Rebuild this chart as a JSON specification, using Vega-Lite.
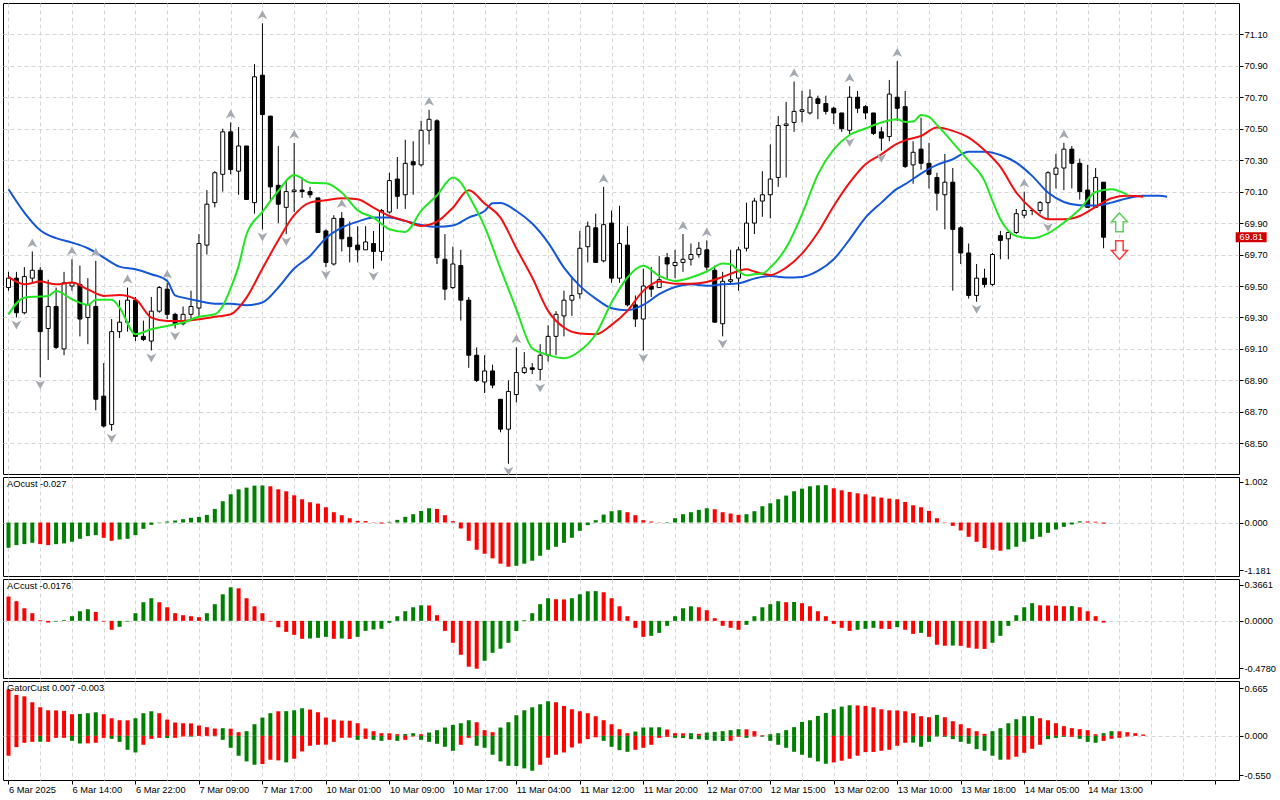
{
  "$schema": "https://vega.github.io/schema/vega-lite/v6.json",
  "background": "white",
  "padding": {"left": 2, "top": 2, "right": 0, "bottom": 0},
  "bounds": "flush",
  "spacing": 3,
  "resolve": {"scale": {"color": "independent", "shape": "independent", "stroke": "independent"}},
  "config": {
    "view": {"stroke": "black", "strokeWidth": 1},
    "font": "Liberation Sans",
    "axis": {
      "labelFont": "Liberation Sans",
      "labelFontSize": 9.3,
      "labelColor": "black",
      "labelOverlap": false,
      "domain": false,
      "gridColor": "#d6d6d6",
      "gridDash": [4, 3],
      "gridWidth": 1,
      "tickColor": "black",
      "tickSize": 4,
      "tickCount": 60,
      "labelPadding": 1
    },
    "title": {
      "font": "Liberation Sans",
      "fontSize": 9.3,
      "fontWeight": "normal",
      "color": "black",
      "anchor": "start",
      "frame": "group",
      "offset": -12,
      "dx": 4
    }
  },
  "datasets": {
    "candles": [
      {"i":1,"o":69.49,"h":69.59,"l":69.47,"c":69.55},
      {"i":2,"o":69.55,"h":69.59,"l":69.30,"c":69.33},
      {"i":3,"o":69.33,"h":69.62,"l":69.32,"c":69.56},
      {"i":4,"o":69.55,"h":69.72,"l":69.52,"c":69.60},
      {"i":5,"o":69.60,"h":69.62,"l":68.92,"c":69.21},
      {"i":6,"o":69.23,"h":69.54,"l":69.03,"c":69.37},
      {"i":7,"o":69.37,"h":69.49,"l":69.10,"c":69.11},
      {"i":8,"o":69.10,"h":69.59,"l":69.06,"c":69.52},
      {"i":9,"o":69.50,"h":69.67,"l":69.47,"c":69.52},
      {"i":10,"o":69.51,"h":69.63,"l":69.18,"c":69.29},
      {"i":11,"o":69.30,"h":69.55,"l":69.13,"c":69.38},
      {"i":12,"o":69.37,"h":69.66,"l":68.71,"c":68.78},
      {"i":13,"o":68.80,"h":69.01,"l":68.60,"c":68.61},
      {"i":14,"o":68.62,"h":69.29,"l":68.58,"c":69.21},
      {"i":15,"o":69.21,"h":69.41,"l":69.17,"c":69.27},
      {"i":16,"o":69.27,"h":69.49,"l":69.21,"c":69.41},
      {"i":17,"o":69.41,"h":69.43,"l":69.15,"c":69.18},
      {"i":18,"o":69.18,"h":69.28,"l":69.15,"c":69.16},
      {"i":19,"o":69.15,"h":69.43,"l":69.09,"c":69.34},
      {"i":20,"o":69.34,"h":69.50,"l":69.33,"c":69.49},
      {"i":21,"o":69.48,"h":69.52,"l":69.29,"c":69.32},
      {"i":22,"o":69.32,"h":69.33,"l":69.23,"c":69.26},
      {"i":23,"o":69.26,"h":69.37,"l":69.25,"c":69.32},
      {"i":24,"o":69.32,"h":69.47,"l":69.29,"c":69.37},
      {"i":25,"o":69.36,"h":69.83,"l":69.31,"c":69.77},
      {"i":26,"o":69.76,"h":70.11,"l":69.70,"c":70.02},
      {"i":27,"o":70.03,"h":70.23,"l":70.00,"c":70.22},
      {"i":28,"o":70.21,"h":70.50,"l":70.10,"c":70.48},
      {"i":29,"o":70.48,"h":70.54,"l":70.21,"c":70.24},
      {"i":30,"o":70.23,"h":70.51,"l":70.08,"c":70.39},
      {"i":31,"o":70.39,"h":70.39,"l":70.05,"c":70.05},
      {"i":32,"o":70.03,"h":70.91,"l":69.96,"c":70.83},
      {"i":33,"o":70.84,"h":71.17,"l":69.86,"c":70.59},
      {"i":34,"o":70.58,"h":70.58,"l":70.04,"c":70.13},
      {"i":35,"o":70.14,"h":70.39,"l":69.90,"c":70.02},
      {"i":36,"o":70.00,"h":70.17,"l":69.83,"c":70.10},
      {"i":37,"o":70.10,"h":70.41,"l":69.97,"c":70.11},
      {"i":38,"o":70.11,"h":70.19,"l":70.06,"c":70.10},
      {"i":39,"o":70.10,"h":70.13,"l":70.06,"c":70.08},
      {"i":40,"o":70.06,"h":70.06,"l":69.84,"c":69.84},
      {"i":41,"o":69.85,"h":69.86,"l":69.62,"c":69.65},
      {"i":42,"o":69.64,"h":69.95,"l":69.63,"c":69.93},
      {"i":43,"o":69.93,"h":69.97,"l":69.72,"c":69.80},
      {"i":44,"o":69.81,"h":69.91,"l":69.65,"c":69.75},
      {"i":45,"o":69.76,"h":69.88,"l":69.65,"c":69.73},
      {"i":46,"o":69.73,"h":69.88,"l":69.73,"c":69.78},
      {"i":47,"o":69.77,"h":69.85,"l":69.61,"c":69.72},
      {"i":48,"o":69.72,"h":69.99,"l":69.66,"c":69.98},
      {"i":49,"o":69.97,"h":70.22,"l":69.96,"c":70.17},
      {"i":50,"o":70.18,"h":70.32,"l":69.99,"c":70.07},
      {"i":51,"o":70.08,"h":70.43,"l":69.99,"c":70.28},
      {"i":52,"o":70.29,"h":70.42,"l":70.08,"c":70.27},
      {"i":53,"o":70.27,"h":70.55,"l":70.26,"c":70.49},
      {"i":54,"o":70.49,"h":70.62,"l":70.40,"c":70.56},
      {"i":55,"o":70.55,"h":70.56,"l":69.64,"c":69.68},
      {"i":56,"o":69.67,"h":69.83,"l":69.41,"c":69.48},
      {"i":57,"o":69.49,"h":69.75,"l":69.48,"c":69.64},
      {"i":58,"o":69.63,"h":69.73,"l":69.28,"c":69.41},
      {"i":59,"o":69.41,"h":69.43,"l":68.98,"c":69.06},
      {"i":60,"o":69.06,"h":69.11,"l":68.89,"c":68.90},
      {"i":61,"o":68.89,"h":69.06,"l":68.82,"c":68.96},
      {"i":62,"o":68.96,"h":69.00,"l":68.85,"c":68.87},
      {"i":63,"o":68.78,"h":68.78,"l":68.57,"c":68.59},
      {"i":64,"o":68.59,"h":68.90,"l":68.37,"c":68.83},
      {"i":65,"o":68.81,"h":69.11,"l":68.76,"c":68.95},
      {"i":66,"o":68.95,"h":69.08,"l":68.94,"c":68.98},
      {"i":67,"o":68.98,"h":69.01,"l":68.94,"c":68.97},
      {"i":68,"o":68.97,"h":69.13,"l":68.90,"c":69.06},
      {"i":69,"o":69.06,"h":69.25,"l":69.02,"c":69.18},
      {"i":70,"o":69.18,"h":69.34,"l":69.06,"c":69.32},
      {"i":71,"o":69.31,"h":69.47,"l":69.18,"c":69.41},
      {"i":72,"o":69.41,"h":69.56,"l":69.31,"c":69.44},
      {"i":73,"o":69.45,"h":69.85,"l":69.42,"c":69.74},
      {"i":74,"o":69.75,"h":69.91,"l":69.65,"c":69.88},
      {"i":75,"o":69.87,"h":69.96,"l":69.65,"c":69.65},
      {"i":76,"o":69.66,"h":70.13,"l":69.65,"c":69.89},
      {"i":77,"o":69.90,"h":69.98,"l":69.52,"c":69.55},
      {"i":78,"o":69.55,"h":70.01,"l":69.52,"c":69.77},
      {"i":79,"o":69.76,"h":69.88,"l":69.37,"c":69.38},
      {"i":80,"o":69.38,"h":69.44,"l":69.24,"c":69.29},
      {"i":81,"o":69.29,"h":69.61,"l":69.09,"c":69.50},
      {"i":82,"o":69.50,"h":69.62,"l":69.43,"c":69.48},
      {"i":83,"o":69.49,"h":69.69,"l":69.49,"c":69.54},
      {"i":84,"o":69.68,"h":69.71,"l":69.54,"c":69.64},
      {"i":85,"o":69.63,"h":69.73,"l":69.55,"c":69.65},
      {"i":86,"o":69.65,"h":69.83,"l":69.59,"c":69.67},
      {"i":87,"o":69.67,"h":69.77,"l":69.63,"c":69.70},
      {"i":88,"o":69.70,"h":69.78,"l":69.68,"c":69.74},
      {"i":89,"o":69.73,"h":69.79,"l":69.60,"c":69.62},
      {"i":90,"o":69.60,"h":69.63,"l":69.27,"c":69.27},
      {"i":91,"o":69.26,"h":69.59,"l":69.18,"c":69.53},
      {"i":92,"o":69.53,"h":69.73,"l":69.51,"c":69.54},
      {"i":93,"o":69.55,"h":69.75,"l":69.47,"c":69.73},
      {"i":94,"o":69.74,"h":70.03,"l":69.72,"c":69.90},
      {"i":95,"o":69.90,"h":70.06,"l":69.83,"c":70.04},
      {"i":96,"o":70.04,"h":70.23,"l":69.94,"c":70.08},
      {"i":97,"o":70.08,"h":70.40,"l":69.93,"c":70.18},
      {"i":98,"o":70.19,"h":70.58,"l":70.13,"c":70.52},
      {"i":99,"o":70.52,"h":70.67,"l":70.19,"c":70.53},
      {"i":100,"o":70.54,"h":70.80,"l":70.48,"c":70.61},
      {"i":101,"o":70.61,"h":70.74,"l":70.54,"c":70.62},
      {"i":102,"o":70.60,"h":70.75,"l":70.59,"c":70.70},
      {"i":103,"o":70.69,"h":70.71,"l":70.56,"c":70.66},
      {"i":104,"o":70.66,"h":70.71,"l":70.59,"c":70.61},
      {"i":105,"o":70.63,"h":70.64,"l":70.53,"c":70.60},
      {"i":106,"o":70.60,"h":70.60,"l":70.48,"c":70.50},
      {"i":107,"o":70.49,"h":70.77,"l":70.46,"c":70.70},
      {"i":108,"o":70.70,"h":70.74,"l":70.60,"c":70.63},
      {"i":109,"o":70.64,"h":70.65,"l":70.56,"c":70.60},
      {"i":110,"o":70.60,"h":70.60,"l":70.46,"c":70.47},
      {"i":111,"o":70.48,"h":70.51,"l":70.36,"c":70.44},
      {"i":112,"o":70.45,"h":70.81,"l":70.42,"c":70.72},
      {"i":113,"o":70.70,"h":70.93,"l":70.55,"c":70.63},
      {"i":114,"o":70.64,"h":70.74,"l":70.25,"c":70.26},
      {"i":115,"o":70.27,"h":70.42,"l":70.15,"c":70.35},
      {"i":116,"o":70.37,"h":70.57,"l":70.24,"c":70.28},
      {"i":117,"o":70.28,"h":70.41,"l":70.12,"c":70.21},
      {"i":118,"o":70.19,"h":70.22,"l":69.98,"c":70.09},
      {"i":119,"o":70.08,"h":70.34,"l":69.86,"c":70.16},
      {"i":120,"o":70.16,"h":70.25,"l":69.47,"c":69.86},
      {"i":121,"o":69.87,"h":69.88,"l":69.64,"c":69.71},
      {"i":122,"o":69.71,"h":69.77,"l":69.42,"c":69.44},
      {"i":123,"o":69.44,"h":69.64,"l":69.40,"c":69.55},
      {"i":124,"o":69.55,"h":69.61,"l":69.49,"c":69.51},
      {"i":125,"o":69.51,"h":69.71,"l":69.50,"c":69.70},
      {"i":126,"o":69.82,"h":69.85,"l":69.67,"c":69.79},
      {"i":127,"o":69.80,"h":69.85,"l":69.67,"c":69.84},
      {"i":128,"o":69.84,"h":69.99,"l":69.83,"c":69.96},
      {"i":129,"o":69.95,"h":70.10,"l":69.93,"c":69.98},
      {"i":130,"o":69.98,"h":69.99,"l":69.95,"c":69.98},
      {"i":131,"o":69.98,"h":70.04,"l":69.96,"c":70.03},
      {"i":132,"o":70.03,"h":70.23,"l":69.92,"c":70.22},
      {"i":133,"o":70.21,"h":70.34,"l":70.12,"c":70.25},
      {"i":134,"o":70.25,"h":70.41,"l":70.11,"c":70.37},
      {"i":135,"o":70.37,"h":70.39,"l":70.12,"c":70.28},
      {"i":136,"o":70.28,"h":70.31,"l":70.05,"c":70.10},
      {"i":137,"o":70.11,"h":70.27,"l":70.00,"c":70.00},
      {"i":138,"o":70.00,"h":70.25,"l":70.00,"c":70.19},
      {"i":139,"o":70.16,"h":70.16,"l":69.74,"c":69.81}
    ],
    "ma": [
      {"i":1,"s":"jaw","v":70.115},{"i":3,"s":"jaw","v":69.967},{"i":5,"s":"jaw","v":69.854},{"i":7,"s":"jaw","v":69.804},
      {"i":9,"s":"jaw","v":69.776},{"i":11,"s":"jaw","v":69.740},{"i":13,"s":"jaw","v":69.681},{"i":15,"s":"jaw","v":69.623},
      {"i":17,"s":"jaw","v":69.606},{"i":19,"s":"jaw","v":69.575},{"i":21,"s":"jaw","v":69.532},{"i":22,"s":"jaw","v":69.441},
      {"i":23,"s":"jaw","v":69.426},{"i":25,"s":"jaw","v":69.405},{"i":27,"s":"jaw","v":69.388},{"i":29,"s":"jaw","v":69.388},
      {"i":31,"s":"jaw","v":69.378},{"i":33,"s":"jaw","v":69.395},{"i":35,"s":"jaw","v":69.490},{"i":37,"s":"jaw","v":69.611},
      {"i":39,"s":"jaw","v":69.691},{"i":41,"s":"jaw","v":69.804},{"i":43,"s":"jaw","v":69.871},{"i":45,"s":"jaw","v":69.909},
      {"i":47,"s":"jaw","v":69.935},{"i":49,"s":"jaw","v":69.935},{"i":51,"s":"jaw","v":69.914},{"i":53,"s":"jaw","v":69.888},
      {"i":55,"s":"jaw","v":69.876},{"i":57,"s":"jaw","v":69.884},{"i":59,"s":"jaw","v":69.935},{"i":61,"s":"jaw","v":69.977},
      {"i":62,"s":"jaw","v":70.026},{"i":63,"s":"jaw","v":70.028},{"i":65,"s":"jaw","v":69.977},{"i":67,"s":"jaw","v":69.897},
      {"i":69,"s":"jaw","v":69.776},{"i":71,"s":"jaw","v":69.617},{"i":73,"s":"jaw","v":69.501},{"i":75,"s":"jaw","v":69.420},
      {"i":77,"s":"jaw","v":69.359},{"i":79,"s":"jaw","v":69.346},{"i":81,"s":"jaw","v":69.380},{"i":83,"s":"jaw","v":69.448},
      {"i":85,"s":"jaw","v":69.494},{"i":87,"s":"jaw","v":69.511},{"i":89,"s":"jaw","v":69.501},{"i":91,"s":"jaw","v":69.511},
      {"i":93,"s":"jaw","v":69.518},{"i":95,"s":"jaw","v":69.547},{"i":97,"s":"jaw","v":69.564},{"i":99,"s":"jaw","v":69.554},
      {"i":101,"s":"jaw","v":69.558},{"i":103,"s":"jaw","v":69.596},{"i":105,"s":"jaw","v":69.670},{"i":107,"s":"jaw","v":69.797},
      {"i":109,"s":"jaw","v":69.935},{"i":111,"s":"jaw","v":70.030},{"i":113,"s":"jaw","v":70.119},{"i":114,"s":"jaw","v":70.147},
      {"i":116,"s":"jaw","v":70.215},{"i":118,"s":"jaw","v":70.270},{"i":120,"s":"jaw","v":70.306},{"i":122,"s":"jaw","v":70.354},
      {"i":124,"s":"jaw","v":70.354},{"i":126,"s":"jaw","v":70.333},{"i":128,"s":"jaw","v":70.284},{"i":130,"s":"jaw","v":70.200},
      {"i":132,"s":"jaw","v":70.094},{"i":134,"s":"jaw","v":70.034},{"i":136,"s":"jaw","v":70.013},{"i":138,"s":"jaw","v":70.011},
      {"i":140,"s":"jaw","v":70.030},{"i":142,"s":"jaw","v":70.058},{"i":144,"s":"jaw","v":70.073},{"i":146,"s":"jaw","v":70.073},
      {"i":147,"s":"jaw","v":70.068},
      {"i":1,"s":"teeth","v":69.558},{"i":3,"s":"teeth","v":69.511},{"i":5,"s":"teeth","v":69.528},{"i":7,"s":"teeth","v":69.511},
      {"i":9,"s":"teeth","v":69.522},{"i":11,"s":"teeth","v":69.479},{"i":13,"s":"teeth","v":69.437},{"i":15,"s":"teeth","v":69.443},
      {"i":17,"s":"teeth","v":69.416},{"i":19,"s":"teeth","v":69.299},{"i":21,"s":"teeth","v":69.278},{"i":23,"s":"teeth","v":69.278},
      {"i":25,"s":"teeth","v":69.289},{"i":27,"s":"teeth","v":69.304},{"i":29,"s":"teeth","v":69.320},{"i":31,"s":"teeth","v":69.426},
      {"i":33,"s":"teeth","v":69.611},{"i":35,"s":"teeth","v":69.791},{"i":37,"s":"teeth","v":69.950},{"i":39,"s":"teeth","v":70.030},
      {"i":41,"s":"teeth","v":70.045},{"i":43,"s":"teeth","v":70.058},{"i":45,"s":"teeth","v":70.051},{"i":47,"s":"teeth","v":69.998},
      {"i":49,"s":"teeth","v":69.945},{"i":51,"s":"teeth","v":69.914},{"i":53,"s":"teeth","v":69.882},{"i":55,"s":"teeth","v":69.909},
      {"i":57,"s":"teeth","v":69.998},{"i":59,"s":"teeth","v":70.109},{"i":61,"s":"teeth","v":70.024},{"i":63,"s":"teeth","v":69.935},
      {"i":65,"s":"teeth","v":69.740},{"i":67,"s":"teeth","v":69.554},{"i":69,"s":"teeth","v":69.342},{"i":71,"s":"teeth","v":69.236},
      {"i":73,"s":"teeth","v":69.198},{"i":75,"s":"teeth","v":69.193},{"i":77,"s":"teeth","v":69.253},{"i":79,"s":"teeth","v":69.342},
      {"i":81,"s":"teeth","v":69.469},{"i":83,"s":"teeth","v":69.528},{"i":85,"s":"teeth","v":69.515},{"i":87,"s":"teeth","v":69.515},
      {"i":89,"s":"teeth","v":69.526},{"i":91,"s":"teeth","v":69.558},{"i":93,"s":"teeth","v":69.596},{"i":94,"s":"teeth","v":69.606},
      {"i":95,"s":"teeth","v":69.592},{"i":97,"s":"teeth","v":69.570},{"i":99,"s":"teeth","v":69.617},{"i":101,"s":"teeth","v":69.706},
      {"i":103,"s":"teeth","v":69.840},{"i":105,"s":"teeth","v":70.009},{"i":107,"s":"teeth","v":70.157},{"i":109,"s":"teeth","v":70.274},
      {"i":111,"s":"teeth","v":70.337},{"i":113,"s":"teeth","v":70.405},{"i":114,"s":"teeth","v":70.426},{"i":116,"s":"teeth","v":70.454},
      {"i":118,"s":"teeth","v":70.507},{"i":120,"s":"teeth","v":70.486},{"i":122,"s":"teeth","v":70.443},{"i":124,"s":"teeth","v":70.363},
      {"i":126,"s":"teeth","v":70.257},{"i":128,"s":"teeth","v":70.094},{"i":130,"s":"teeth","v":69.988},{"i":132,"s":"teeth","v":69.924},
      {"i":134,"s":"teeth","v":69.924},{"i":136,"s":"teeth","v":69.945},{"i":138,"s":"teeth","v":70.003},{"i":140,"s":"teeth","v":70.058},
      {"i":142,"s":"teeth","v":70.073},{"i":144,"s":"teeth","v":70.068},
      {"i":1,"s":"lips","v":69.320},{"i":3,"s":"lips","v":69.426},{"i":5,"s":"lips","v":69.433},{"i":6,"s":"lips","v":69.437},
      {"i":7,"s":"lips","v":69.469},{"i":9,"s":"lips","v":69.416},{"i":11,"s":"lips","v":69.380},{"i":12,"s":"lips","v":69.412},
      {"i":14,"s":"lips","v":69.412},{"i":15,"s":"lips","v":69.363},{"i":17,"s":"lips","v":69.193},{"i":19,"s":"lips","v":69.225},
      {"i":21,"s":"lips","v":69.246},{"i":23,"s":"lips","v":69.268},{"i":25,"s":"lips","v":69.304},{"i":27,"s":"lips","v":69.320},
      {"i":28,"s":"lips","v":69.373},{"i":29,"s":"lips","v":69.486},{"i":30,"s":"lips","v":69.628},{"i":31,"s":"lips","v":69.829},
      {"i":33,"s":"lips","v":69.971},{"i":35,"s":"lips","v":70.104},{"i":37,"s":"lips","v":70.206},{"i":39,"s":"lips","v":70.157},
      {"i":41,"s":"lips","v":70.153},{"i":43,"s":"lips","v":70.094},{"i":45,"s":"lips","v":69.981},{"i":47,"s":"lips","v":69.935},
      {"i":49,"s":"lips","v":69.861},{"i":51,"s":"lips","v":69.844},{"i":53,"s":"lips","v":69.977},{"i":55,"s":"lips","v":70.077},
      {"i":57,"s":"lips","v":70.190},{"i":58,"s":"lips","v":70.157},{"i":59,"s":"lips","v":70.073},{"i":61,"s":"lips","v":69.878},
      {"i":63,"s":"lips","v":69.611},{"i":65,"s":"lips","v":69.352},{"i":67,"s":"lips","v":69.104},{"i":69,"s":"lips","v":69.062},
      {"i":71,"s":"lips","v":69.041},{"i":73,"s":"lips","v":69.087},{"i":75,"s":"lips","v":69.193},{"i":77,"s":"lips","v":69.395},
      {"i":79,"s":"lips","v":69.554},{"i":81,"s":"lips","v":69.628},{"i":83,"s":"lips","v":69.564},{"i":85,"s":"lips","v":69.532},
      {"i":87,"s":"lips","v":69.554},{"i":89,"s":"lips","v":69.592},{"i":91,"s":"lips","v":69.643},{"i":92,"s":"lips","v":69.638},
      {"i":93,"s":"lips","v":69.596},{"i":94,"s":"lips","v":69.568},{"i":95,"s":"lips","v":69.575},{"i":96,"s":"lips","v":69.579},
      {"i":97,"s":"lips","v":69.617},{"i":99,"s":"lips","v":69.744},{"i":101,"s":"lips","v":69.956},{"i":103,"s":"lips","v":70.210},
      {"i":105,"s":"lips","v":70.369},{"i":107,"s":"lips","v":70.460},{"i":109,"s":"lips","v":70.501},{"i":111,"s":"lips","v":70.539},
      {"i":113,"s":"lips","v":70.560},{"i":114,"s":"lips","v":70.543},{"i":115,"s":"lips","v":70.545},{"i":116,"s":"lips","v":70.587},
      {"i":117,"s":"lips","v":70.575},{"i":118,"s":"lips","v":70.524},{"i":120,"s":"lips","v":70.412},{"i":122,"s":"lips","v":70.295},
      {"i":124,"s":"lips","v":70.168},{"i":125,"s":"lips","v":70.041},{"i":126,"s":"lips","v":69.924},{"i":128,"s":"lips","v":69.818},
      {"i":130,"s":"lips","v":69.804},{"i":132,"s":"lips","v":69.835},{"i":134,"s":"lips","v":69.903},{"i":136,"s":"lips","v":69.988},
      {"i":138,"s":"lips","v":70.098},{"i":140,"s":"lips","v":70.115},{"i":142,"s":"lips","v":70.079}
    ],
    "fractals": [
      {"i":4,"k":"up","p":69.72},{"i":9,"k":"up","p":69.67},{"i":12,"k":"up","p":69.66},{"i":16,"k":"up","p":69.49},
      {"i":21,"k":"up","p":69.52},{"i":29,"k":"up","p":70.54},{"i":33,"k":"up","p":71.17},{"i":37,"k":"up","p":70.41},
      {"i":43,"k":"up","p":69.97},{"i":54,"k":"up","p":70.62},{"i":65,"k":"up","p":69.11},{"i":76,"k":"up","p":70.13},
      {"i":86,"k":"up","p":69.83},{"i":89,"k":"up","p":69.79},{"i":100,"k":"up","p":70.80},{"i":107,"k":"up","p":70.77},
      {"i":113,"k":"up","p":70.93},{"i":129,"k":"up","p":70.10},{"i":134,"k":"up","p":70.41},
      {"i":2,"k":"down","p":69.30},{"i":5,"k":"down","p":68.92},{"i":14,"k":"down","p":68.58},{"i":19,"k":"down","p":69.09},
      {"i":22,"k":"down","p":69.23},{"i":33,"k":"down","p":69.86},{"i":36,"k":"down","p":69.83},{"i":41,"k":"down","p":69.62},
      {"i":47,"k":"down","p":69.61},{"i":64,"k":"down","p":68.37},{"i":68,"k":"down","p":68.90},{"i":81,"k":"down","p":69.09},
      {"i":91,"k":"down","p":69.18},{"i":107,"k":"down","p":70.46},{"i":111,"k":"down","p":70.36},{"i":123,"k":"down","p":69.40},
      {"i":132,"k":"down","p":69.92}
    ],
    "signals": [
      {"i":141,"k":"buy","p":69.905},
      {"i":141,"k":"sell","p":69.728}
    ],
    "last": [{"p":69.81,"t":"69.81"}],
    "ao": [
      {"i":1,"v":-0.622,"d":"g"},{"i":2,"v":-0.556,"d":"g"},{"i":3,"v":-0.532,"d":"g"},{"i":4,"v":-0.499,"d":"g"},
      {"i":5,"v":-0.532,"d":"r"},{"i":6,"v":-0.556,"d":"r"},{"i":7,"v":-0.532,"d":"g"},{"i":8,"v":-0.515,"d":"g"},
      {"i":9,"v":-0.474,"d":"g"},{"i":10,"v":-0.401,"d":"g"},{"i":11,"v":-0.335,"d":"g"},{"i":12,"v":-0.311,"d":"g"},
      {"i":13,"v":-0.376,"d":"r"},{"i":14,"v":-0.450,"d":"r"},{"i":15,"v":-0.417,"d":"g"},{"i":16,"v":-0.401,"d":"g"},
      {"i":17,"v":-0.311,"d":"g"},{"i":18,"v":-0.155,"d":"g"},{"i":19,"v":-0.057,"d":"g"},{"i":20,"v":-0.008,"d":"g"},
      {"i":21,"v":0.025,"d":"g"},{"i":22,"v":0.049,"d":"g"},{"i":23,"v":0.082,"d":"g"},{"i":24,"v":0.115,"d":"g"},
      {"i":25,"v":0.139,"d":"g"},{"i":26,"v":0.188,"d":"g"},{"i":27,"v":0.335,"d":"g"},{"i":28,"v":0.524,"d":"g"},
      {"i":29,"v":0.695,"d":"g"},{"i":30,"v":0.818,"d":"g"},{"i":31,"v":0.859,"d":"g"},{"i":32,"v":0.908,"d":"g"},
      {"i":33,"v":0.912,"d":"g"},{"i":34,"v":0.892,"d":"r"},{"i":35,"v":0.818,"d":"r"},{"i":36,"v":0.769,"d":"r"},
      {"i":37,"v":0.671,"d":"r"},{"i":38,"v":0.573,"d":"r"},{"i":39,"v":0.499,"d":"r"},{"i":40,"v":0.466,"d":"r"},
      {"i":41,"v":0.376,"d":"r"},{"i":42,"v":0.254,"d":"r"},{"i":43,"v":0.180,"d":"r"},{"i":44,"v":0.106,"d":"r"},
      {"i":45,"v":0.041,"d":"r"},{"i":46,"v":0.035,"d":"r"},{"i":47,"v":0.008,"d":"r"},{"i":48,"v":-0.025,"d":"r"},
      {"i":49,"v":0.016,"d":"g"},{"i":50,"v":0.065,"d":"g"},{"i":51,"v":0.139,"d":"g"},{"i":52,"v":0.205,"d":"g"},
      {"i":53,"v":0.286,"d":"g"},{"i":54,"v":0.352,"d":"g"},{"i":55,"v":0.335,"d":"r"},{"i":56,"v":0.180,"d":"r"},
      {"i":57,"v":0.033,"d":"r"},{"i":58,"v":-0.147,"d":"r"},{"i":59,"v":-0.450,"d":"r"},{"i":60,"v":-0.671,"d":"r"},
      {"i":61,"v":-0.769,"d":"r"},{"i":62,"v":-0.883,"d":"r"},{"i":63,"v":-1.014,"d":"r"},{"i":64,"v":-1.088,"d":"r"},
      {"i":65,"v":-1.063,"d":"g"},{"i":66,"v":-1.014,"d":"g"},{"i":67,"v":-0.941,"d":"g"},{"i":68,"v":-0.818,"d":"g"},
      {"i":69,"v":-0.671,"d":"g"},{"i":70,"v":-0.597,"d":"g"},{"i":71,"v":-0.499,"d":"g"},{"i":72,"v":-0.376,"d":"g"},
      {"i":73,"v":-0.205,"d":"g"},{"i":74,"v":-0.065,"d":"g"},{"i":75,"v":0.057,"d":"g"},{"i":76,"v":0.196,"d":"g"},
      {"i":77,"v":0.278,"d":"g"},{"i":78,"v":0.303,"d":"g"},{"i":79,"v":0.254,"d":"r"},{"i":80,"v":0.180,"d":"r"},
      {"i":81,"v":0.057,"d":"r"},{"i":82,"v":0.025,"d":"r"},{"i":83,"v":0.006,"d":"r"},{"i":84,"v":0.012,"d":"g"},
      {"i":85,"v":0.106,"d":"g"},{"i":86,"v":0.205,"d":"g"},{"i":87,"v":0.254,"d":"g"},{"i":88,"v":0.311,"d":"g"},
      {"i":89,"v":0.352,"d":"g"},{"i":90,"v":0.327,"d":"r"},{"i":91,"v":0.254,"d":"r"},{"i":92,"v":0.221,"d":"r"},
      {"i":93,"v":0.188,"d":"r"},{"i":94,"v":0.205,"d":"g"},{"i":95,"v":0.278,"d":"g"},{"i":96,"v":0.401,"d":"g"},
      {"i":97,"v":0.474,"d":"g"},{"i":98,"v":0.573,"d":"g"},{"i":99,"v":0.663,"d":"g"},{"i":100,"v":0.769,"d":"g"},
      {"i":101,"v":0.834,"d":"g"},{"i":102,"v":0.892,"d":"g"},{"i":103,"v":0.916,"d":"g"},{"i":104,"v":0.920,"d":"g"},
      {"i":105,"v":0.843,"d":"r"},{"i":106,"v":0.793,"d":"r"},{"i":107,"v":0.753,"d":"r"},{"i":108,"v":0.720,"d":"r"},
      {"i":109,"v":0.695,"d":"r"},{"i":110,"v":0.638,"d":"r"},{"i":111,"v":0.614,"d":"r"},{"i":112,"v":0.589,"d":"r"},
      {"i":113,"v":0.573,"d":"r"},{"i":114,"v":0.507,"d":"r"},{"i":115,"v":0.425,"d":"r"},{"i":116,"v":0.376,"d":"r"},
      {"i":117,"v":0.286,"d":"r"},{"i":118,"v":0.106,"d":"r"},{"i":119,"v":0.008,"d":"r"},{"i":120,"v":-0.082,"d":"r"},
      {"i":121,"v":-0.196,"d":"r"},{"i":122,"v":-0.352,"d":"r"},{"i":123,"v":-0.474,"d":"r"},{"i":124,"v":-0.630,"d":"r"},
      {"i":125,"v":-0.671,"d":"r"},{"i":126,"v":-0.695,"d":"r"},{"i":127,"v":-0.663,"d":"g"},{"i":128,"v":-0.597,"d":"g"},
      {"i":129,"v":-0.474,"d":"g"},{"i":130,"v":-0.409,"d":"g"},{"i":131,"v":-0.352,"d":"g"},{"i":132,"v":-0.254,"d":"g"},
      {"i":133,"v":-0.172,"d":"g"},{"i":134,"v":-0.106,"d":"g"},{"i":135,"v":-0.049,"d":"g"},{"i":136,"v":0.030,"d":"g"},
      {"i":137,"v":0.025,"d":"r"},{"i":138,"v":0.020,"d":"r"},{"i":139,"v":-0.027,"d":"r"}
    ],
    "ac": [
      {"i":1,"v":0.245,"d":"r"},{"i":2,"v":0.198,"d":"r"},{"i":3,"v":0.127,"d":"r"},{"i":4,"v":0.077,"d":"r"},
      {"i":5,"v":0.007,"d":"r"},{"i":6,"v":-0.017,"d":"r"},{"i":7,"v":-0.007,"d":"g"},{"i":8,"v":0.007,"d":"g"},
      {"i":9,"v":0.047,"d":"g"},{"i":10,"v":0.097,"d":"g"},{"i":11,"v":0.117,"d":"g"},{"i":12,"v":0.090,"d":"r"},
      {"i":13,"v":-0.007,"d":"r"},{"i":14,"v":-0.090,"d":"r"},{"i":15,"v":-0.060,"d":"g"},{"i":16,"v":-0.007,"d":"g"},
      {"i":17,"v":0.077,"d":"g"},{"i":18,"v":0.188,"d":"g"},{"i":19,"v":0.228,"d":"g"},{"i":20,"v":0.188,"d":"r"},
      {"i":21,"v":0.137,"d":"r"},{"i":22,"v":0.077,"d":"r"},{"i":23,"v":0.057,"d":"r"},{"i":24,"v":0.047,"d":"r"},
      {"i":25,"v":0.037,"d":"r"},{"i":26,"v":0.077,"d":"g"},{"i":27,"v":0.168,"d":"g"},{"i":28,"v":0.268,"d":"g"},
      {"i":29,"v":0.338,"d":"g"},{"i":30,"v":0.328,"d":"r"},{"i":31,"v":0.228,"d":"r"},{"i":32,"v":0.147,"d":"r"},
      {"i":33,"v":0.077,"d":"r"},{"i":34,"v":-0.007,"d":"r"},{"i":35,"v":-0.064,"d":"r"},{"i":36,"v":-0.111,"d":"r"},
      {"i":37,"v":-0.141,"d":"r"},{"i":38,"v":-0.181,"d":"r"},{"i":39,"v":-0.178,"d":"g"},{"i":40,"v":-0.171,"d":"g"},
      {"i":41,"v":-0.161,"d":"g"},{"i":42,"v":-0.181,"d":"r"},{"i":43,"v":-0.178,"d":"g"},{"i":44,"v":-0.183,"d":"r"},
      {"i":45,"v":-0.161,"d":"g"},{"i":46,"v":-0.101,"d":"g"},{"i":47,"v":-0.087,"d":"g"},{"i":48,"v":-0.080,"d":"g"},
      {"i":49,"v":-0.020,"d":"g"},{"i":50,"v":0.047,"d":"g"},{"i":51,"v":0.097,"d":"g"},{"i":52,"v":0.137,"d":"g"},
      {"i":53,"v":0.157,"d":"g"},{"i":54,"v":0.155,"d":"r"},{"i":55,"v":0.057,"d":"r"},{"i":56,"v":-0.101,"d":"r"},
      {"i":57,"v":-0.221,"d":"r"},{"i":58,"v":-0.342,"d":"r"},{"i":59,"v":-0.462,"d":"r"},{"i":60,"v":-0.482,"d":"r"},
      {"i":61,"v":-0.402,"d":"g"},{"i":62,"v":-0.322,"d":"g"},{"i":63,"v":-0.281,"d":"g"},{"i":64,"v":-0.221,"d":"g"},
      {"i":65,"v":-0.101,"d":"g"},{"i":66,"v":0.007,"d":"g"},{"i":67,"v":0.077,"d":"g"},{"i":68,"v":0.168,"d":"g"},
      {"i":69,"v":0.228,"d":"g"},{"i":70,"v":0.218,"d":"r"},{"i":71,"v":0.216,"d":"r"},{"i":72,"v":0.228,"d":"g"},
      {"i":73,"v":0.268,"d":"g"},{"i":74,"v":0.298,"d":"g"},{"i":75,"v":0.300,"d":"g"},{"i":76,"v":0.288,"d":"r"},
      {"i":77,"v":0.228,"d":"r"},{"i":78,"v":0.147,"d":"r"},{"i":79,"v":0.047,"d":"r"},{"i":80,"v":-0.070,"d":"r"},
      {"i":81,"v":-0.161,"d":"r"},{"i":82,"v":-0.151,"d":"g"},{"i":83,"v":-0.121,"d":"g"},{"i":84,"v":-0.050,"d":"g"},
      {"i":85,"v":0.047,"d":"g"},{"i":86,"v":0.127,"d":"g"},{"i":87,"v":0.147,"d":"g"},{"i":88,"v":0.137,"d":"r"},
      {"i":89,"v":0.107,"d":"r"},{"i":90,"v":0.027,"d":"r"},{"i":91,"v":-0.050,"d":"r"},{"i":92,"v":-0.070,"d":"r"},
      {"i":93,"v":-0.090,"d":"r"},{"i":94,"v":-0.040,"d":"g"},{"i":95,"v":0.047,"d":"g"},{"i":96,"v":0.137,"d":"g"},
      {"i":97,"v":0.168,"d":"g"},{"i":98,"v":0.198,"d":"g"},{"i":99,"v":0.188,"d":"r"},{"i":100,"v":0.190,"d":"g"},
      {"i":101,"v":0.178,"d":"r"},{"i":102,"v":0.147,"d":"r"},{"i":103,"v":0.097,"d":"r"},{"i":104,"v":0.047,"d":"r"},
      {"i":105,"v":-0.030,"d":"r"},{"i":106,"v":-0.070,"d":"r"},{"i":107,"v":-0.101,"d":"r"},{"i":108,"v":-0.090,"d":"g"},
      {"i":109,"v":-0.080,"d":"g"},{"i":110,"v":-0.070,"d":"g"},{"i":111,"v":-0.080,"d":"r"},{"i":112,"v":-0.082,"d":"r"},
      {"i":113,"v":-0.064,"d":"g"},{"i":114,"v":-0.090,"d":"r"},{"i":115,"v":-0.131,"d":"r"},{"i":116,"v":-0.121,"d":"g"},
      {"i":117,"v":-0.161,"d":"r"},{"i":118,"v":-0.241,"d":"r"},{"i":119,"v":-0.251,"d":"r"},{"i":120,"v":-0.249,"d":"g"},
      {"i":121,"v":-0.252,"d":"r"},{"i":122,"v":-0.271,"d":"r"},{"i":123,"v":-0.281,"d":"r"},{"i":124,"v":-0.283,"d":"r"},
      {"i":125,"v":-0.221,"d":"g"},{"i":126,"v":-0.151,"d":"g"},{"i":127,"v":-0.050,"d":"g"},{"i":128,"v":0.057,"d":"g"},
      {"i":129,"v":0.137,"d":"g"},{"i":130,"v":0.178,"d":"g"},{"i":131,"v":0.157,"d":"r"},{"i":132,"v":0.155,"d":"r"},
      {"i":133,"v":0.153,"d":"r"},{"i":134,"v":0.147,"d":"r"},{"i":135,"v":0.149,"d":"g"},{"i":136,"v":0.137,"d":"r"},
      {"i":137,"v":0.097,"d":"r"},{"i":138,"v":0.047,"d":"r"},{"i":139,"v":-0.0176,"d":"r"}
    ],
    "gator": [
      {"i":1,"v":0.650,"d":"r"},{"i":2,"v":0.571,"d":"r"},{"i":3,"v":0.552,"d":"r"},{"i":4,"v":0.469,"d":"r"},
      {"i":5,"v":0.399,"d":"r"},{"i":6,"v":0.357,"d":"r"},{"i":7,"v":0.355,"d":"r"},{"i":8,"v":0.348,"d":"r"},
      {"i":9,"v":0.302,"d":"r"},{"i":10,"v":0.306,"d":"g"},{"i":11,"v":0.316,"d":"g"},{"i":12,"v":0.329,"d":"g"},
      {"i":13,"v":0.302,"d":"r"},{"i":14,"v":0.246,"d":"r"},{"i":15,"v":0.218,"d":"r"},{"i":16,"v":0.216,"d":"r"},
      {"i":17,"v":0.246,"d":"g"},{"i":18,"v":0.316,"d":"g"},{"i":19,"v":0.343,"d":"g"},{"i":20,"v":0.316,"d":"r"},
      {"i":21,"v":0.227,"d":"r"},{"i":22,"v":0.186,"d":"r"},{"i":23,"v":0.176,"d":"r"},{"i":24,"v":0.174,"d":"r"},
      {"i":25,"v":0.144,"d":"r"},{"i":26,"v":0.121,"d":"r"},{"i":27,"v":0.102,"d":"r"},{"i":28,"v":0.107,"d":"g"},
      {"i":29,"v":0.100,"d":"r"},{"i":30,"v":0.051,"d":"r"},{"i":31,"v":0.065,"d":"g"},{"i":32,"v":0.162,"d":"g"},
      {"i":33,"v":0.255,"d":"g"},{"i":34,"v":0.316,"d":"g"},{"i":35,"v":0.343,"d":"r"},{"i":36,"v":0.345,"d":"g"},
      {"i":37,"v":0.357,"d":"g"},{"i":38,"v":0.385,"d":"g"},{"i":39,"v":0.367,"d":"r"},{"i":40,"v":0.329,"d":"r"},
      {"i":41,"v":0.255,"d":"r"},{"i":42,"v":0.227,"d":"r"},{"i":43,"v":0.213,"d":"r"},{"i":44,"v":0.211,"d":"r"},
      {"i":45,"v":0.176,"d":"r"},{"i":46,"v":0.102,"d":"r"},{"i":47,"v":0.065,"d":"r"},{"i":48,"v":0.037,"d":"r"},
      {"i":49,"v":0.035,"d":"r"},{"i":50,"v":0.023,"d":"r"},{"i":51,"v":0.025,"d":"g"},{"i":52,"v":0.037,"d":"g"},
      {"i":53,"v":0.023,"d":"r"},{"i":54,"v":0.046,"d":"g"},{"i":55,"v":0.079,"d":"g"},{"i":56,"v":0.116,"d":"g"},
      {"i":57,"v":0.153,"d":"g"},{"i":58,"v":0.176,"d":"g"},{"i":59,"v":0.218,"d":"g"},{"i":60,"v":0.190,"d":"r"},
      {"i":61,"v":0.079,"d":"r"},{"i":62,"v":0.051,"d":"r"},{"i":63,"v":0.116,"d":"g"},{"i":64,"v":0.190,"d":"g"},
      {"i":65,"v":0.288,"d":"g"},{"i":66,"v":0.357,"d":"g"},{"i":67,"v":0.399,"d":"g"},{"i":68,"v":0.441,"d":"g"},
      {"i":69,"v":0.483,"d":"g"},{"i":70,"v":0.469,"d":"r"},{"i":71,"v":0.418,"d":"r"},{"i":72,"v":0.371,"d":"r"},
      {"i":73,"v":0.343,"d":"r"},{"i":74,"v":0.316,"d":"r"},{"i":75,"v":0.274,"d":"r"},{"i":76,"v":0.218,"d":"r"},
      {"i":77,"v":0.162,"d":"r"},{"i":78,"v":0.093,"d":"r"},{"i":79,"v":0.037,"d":"r"},{"i":80,"v":0.060,"d":"g"},
      {"i":81,"v":0.116,"d":"g"},{"i":82,"v":0.118,"d":"g"},{"i":83,"v":0.120,"d":"g"},{"i":84,"v":0.088,"d":"r"},
      {"i":85,"v":0.037,"d":"r"},{"i":86,"v":0.035,"d":"r"},{"i":87,"v":0.037,"d":"g"},{"i":88,"v":0.028,"d":"r"},
      {"i":89,"v":0.046,"d":"g"},{"i":90,"v":0.056,"d":"g"},{"i":91,"v":0.065,"d":"g"},{"i":92,"v":0.079,"d":"g"},
      {"i":93,"v":0.093,"d":"g"},{"i":94,"v":0.091,"d":"r"},{"i":95,"v":0.065,"d":"r"},{"i":96,"v":0.009,"d":"r"},
      {"i":97,"v":0.023,"d":"g"},{"i":98,"v":0.037,"d":"g"},{"i":99,"v":0.079,"d":"g"},{"i":100,"v":0.121,"d":"g"},
      {"i":101,"v":0.195,"d":"g"},{"i":102,"v":0.218,"d":"g"},{"i":103,"v":0.278,"d":"g"},{"i":104,"v":0.320,"d":"g"},
      {"i":105,"v":0.371,"d":"g"},{"i":106,"v":0.408,"d":"g"},{"i":107,"v":0.427,"d":"g"},{"i":108,"v":0.425,"d":"r"},
      {"i":109,"v":0.418,"d":"r"},{"i":110,"v":0.399,"d":"r"},{"i":111,"v":0.371,"d":"r"},{"i":112,"v":0.357,"d":"r"},
      {"i":113,"v":0.355,"d":"r"},{"i":114,"v":0.343,"d":"r"},{"i":115,"v":0.316,"d":"r"},{"i":116,"v":0.274,"d":"r"},
      {"i":117,"v":0.260,"d":"r"},{"i":118,"v":0.292,"d":"g"},{"i":119,"v":0.260,"d":"r"},{"i":120,"v":0.204,"d":"r"},
      {"i":121,"v":0.162,"d":"r"},{"i":122,"v":0.107,"d":"r"},{"i":123,"v":0.065,"d":"r"},{"i":124,"v":0.028,"d":"r"},
      {"i":125,"v":0.065,"d":"g"},{"i":126,"v":0.107,"d":"g"},{"i":127,"v":0.176,"d":"g"},{"i":128,"v":0.232,"d":"g"},
      {"i":129,"v":0.274,"d":"g"},{"i":130,"v":0.276,"d":"g"},{"i":131,"v":0.246,"d":"r"},{"i":132,"v":0.218,"d":"r"},
      {"i":133,"v":0.176,"d":"r"},{"i":134,"v":0.135,"d":"r"},{"i":135,"v":0.107,"d":"r"},{"i":136,"v":0.093,"d":"r"},
      {"i":137,"v":0.079,"d":"r"},{"i":138,"v":0.023,"d":"r"},{"i":139,"v":0.037,"d":"g"},{"i":140,"v":0.065,"d":"g"},
      {"i":141,"v":0.063,"d":"r"},{"i":142,"v":0.051,"d":"r"},{"i":143,"v":0.037,"d":"r"},{"i":144,"v":0.019,"d":"r"},
      {"i":1,"v":-0.278,"d":"r"},{"i":2,"v":-0.158,"d":"r"},{"i":3,"v":-0.097,"d":"r"},{"i":4,"v":-0.084,"d":"r"},
      {"i":5,"v":-0.082,"d":"g"},{"i":6,"v":-0.084,"d":"r"},{"i":7,"v":-0.028,"d":"r"},{"i":8,"v":-0.028,"d":"r"},
      {"i":9,"v":-0.070,"d":"g"},{"i":10,"v":-0.107,"d":"g"},{"i":11,"v":-0.105,"d":"r"},{"i":12,"v":-0.097,"d":"r"},
      {"i":13,"v":-0.028,"d":"r"},{"i":14,"v":-0.042,"d":"g"},{"i":15,"v":-0.084,"d":"g"},{"i":16,"v":-0.195,"d":"g"},
      {"i":17,"v":-0.232,"d":"g"},{"i":18,"v":-0.125,"d":"r"},{"i":19,"v":-0.042,"d":"r"},{"i":20,"v":-0.028,"d":"r"},
      {"i":21,"v":-0.030,"d":"g"},{"i":22,"v":-0.028,"d":"r"},{"i":23,"v":-0.009,"d":"r"},{"i":24,"v":-0.011,"d":"g"},
      {"i":25,"v":-0.003,"d":"r"},{"i":26,"v":-0.002,"d":"r"},{"i":27,"v":-0.004,"d":"g"},{"i":28,"v":-0.056,"d":"g"},
      {"i":29,"v":-0.167,"d":"g"},{"i":30,"v":-0.278,"d":"g"},{"i":31,"v":-0.357,"d":"g"},{"i":32,"v":-0.404,"d":"g"},
      {"i":33,"v":-0.394,"d":"r"},{"i":34,"v":-0.334,"d":"r"},{"i":35,"v":-0.343,"d":"r"},{"i":36,"v":-0.371,"d":"g"},
      {"i":37,"v":-0.320,"d":"r"},{"i":38,"v":-0.218,"d":"r"},{"i":39,"v":-0.139,"d":"r"},{"i":40,"v":-0.125,"d":"r"},
      {"i":41,"v":-0.123,"d":"r"},{"i":42,"v":-0.084,"d":"r"},{"i":43,"v":-0.028,"d":"r"},{"i":44,"v":-0.026,"d":"r"},
      {"i":45,"v":-0.056,"d":"g"},{"i":46,"v":-0.042,"d":"r"},{"i":47,"v":-0.056,"d":"g"},{"i":48,"v":-0.070,"d":"g"},
      {"i":49,"v":-0.056,"d":"r"},{"i":50,"v":-0.070,"d":"g"},{"i":51,"v":-0.056,"d":"r"},{"i":52,"v":-0.009,"d":"r"},
      {"i":53,"v":-0.056,"d":"g"},{"i":54,"v":-0.084,"d":"g"},{"i":55,"v":-0.111,"d":"g"},{"i":56,"v":-0.153,"d":"g"},
      {"i":57,"v":-0.209,"d":"g"},{"i":58,"v":-0.125,"d":"r"},{"i":59,"v":-0.028,"d":"r"},{"i":60,"v":-0.139,"d":"g"},
      {"i":61,"v":-0.167,"d":"g"},{"i":62,"v":-0.264,"d":"g"},{"i":63,"v":-0.357,"d":"g"},{"i":64,"v":-0.418,"d":"g"},
      {"i":65,"v":-0.420,"d":"g"},{"i":66,"v":-0.455,"d":"g"},{"i":67,"v":-0.487,"d":"g"},{"i":68,"v":-0.404,"d":"r"},
      {"i":69,"v":-0.306,"d":"r"},{"i":70,"v":-0.264,"d":"r"},{"i":71,"v":-0.232,"d":"r"},{"i":72,"v":-0.162,"d":"r"},
      {"i":73,"v":-0.107,"d":"r"},{"i":74,"v":-0.046,"d":"r"},{"i":75,"v":-0.020,"d":"r"},{"i":76,"v":-0.070,"d":"g"},
      {"i":77,"v":-0.153,"d":"g"},{"i":78,"v":-0.200,"d":"g"},{"i":79,"v":-0.223,"d":"g"},{"i":80,"v":-0.195,"d":"r"},
      {"i":81,"v":-0.167,"d":"r"},{"i":82,"v":-0.125,"d":"r"},{"i":83,"v":-0.028,"d":"r"},{"i":84,"v":-0.014,"d":"r"},
      {"i":85,"v":-0.028,"d":"g"},{"i":86,"v":-0.030,"d":"g"},{"i":87,"v":-0.046,"d":"g"},{"i":88,"v":-0.048,"d":"g"},
      {"i":89,"v":-0.056,"d":"g"},{"i":90,"v":-0.070,"d":"g"},{"i":91,"v":-0.072,"d":"g"},{"i":92,"v":-0.070,"d":"r"},
      {"i":93,"v":-0.014,"d":"r"},{"i":94,"v":-0.028,"d":"g"},{"i":95,"v":-0.009,"d":"r"},{"i":96,"v":-0.011,"d":"g"},
      {"i":97,"v":-0.070,"d":"g"},{"i":98,"v":-0.125,"d":"g"},{"i":99,"v":-0.167,"d":"g"},{"i":100,"v":-0.223,"d":"g"},
      {"i":101,"v":-0.264,"d":"g"},{"i":102,"v":-0.306,"d":"g"},{"i":103,"v":-0.357,"d":"g"},{"i":104,"v":-0.390,"d":"g"},
      {"i":105,"v":-0.371,"d":"r"},{"i":106,"v":-0.348,"d":"r"},{"i":107,"v":-0.320,"d":"r"},{"i":108,"v":-0.278,"d":"r"},
      {"i":109,"v":-0.227,"d":"r"},{"i":110,"v":-0.225,"d":"r"},{"i":111,"v":-0.209,"d":"r"},{"i":112,"v":-0.195,"d":"r"},
      {"i":113,"v":-0.139,"d":"r"},{"i":114,"v":-0.097,"d":"r"},{"i":115,"v":-0.095,"d":"g"},{"i":116,"v":-0.153,"d":"g"},
      {"i":117,"v":-0.084,"d":"g"},{"i":118,"v":-0.009,"d":"g"},{"i":119,"v":-0.014,"d":"g"},{"i":120,"v":-0.046,"d":"g"},
      {"i":121,"v":-0.084,"d":"g"},{"i":122,"v":-0.111,"d":"g"},{"i":123,"v":-0.186,"d":"g"},{"i":124,"v":-0.209,"d":"g"},
      {"i":125,"v":-0.278,"d":"g"},{"i":126,"v":-0.334,"d":"g"},{"i":127,"v":-0.332,"d":"r"},{"i":128,"v":-0.292,"d":"r"},
      {"i":129,"v":-0.237,"d":"r"},{"i":130,"v":-0.181,"d":"r"},{"i":131,"v":-0.125,"d":"r"},{"i":132,"v":-0.046,"d":"g"},
      {"i":133,"v":-0.028,"d":"g"},{"i":134,"v":-0.014,"d":"g"},{"i":135,"v":-0.014,"d":"r"},{"i":136,"v":-0.042,"d":"g"},
      {"i":137,"v":-0.084,"d":"g"},{"i":138,"v":-0.097,"d":"g"},{"i":139,"v":-0.070,"d":"r"},{"i":140,"v":-0.042,"d":"r"},
      {"i":141,"v":-0.028,"d":"r"},{"i":142,"v":-0.009,"d":"r"}
    ]
  },
  "vconcat": [
    {
      "width": 1236,
      "height": 471,
      "layer": [
        {
          "data": {"name": "candles"},
          "mark": {"type": "rule", "color": "black", "strokeWidth": 1},
          "encoding": {
            "x": {
              "field": "i", "type": "quantitative",
              "scale": {"domain": [0.9375, 155.4375], "nice": false, "zero": false},
              "axis": {"title": null, "labels": false, "ticks": false, "grid": true, "tickCount": 60,
                "values": [1,5,9,13,17,21,25,29,33,37,41,45,49,53,57,61,65,69,73,77,81,85,89,93,97,101,105,109,113,117,121,125,129,133,137,141,145,149,153]}
            },
            "y": {
              "field": "l", "type": "quantitative",
              "scale": {"domain": [68.305, 71.299], "nice": false, "zero": false},
              "axis": {"title": null, "orient": "right", "grid": true, "labelOverlap": false, "tickCount": 60,
                "format": ".2f",
                "values": [68.5, 68.7, 68.9, 69.1, 69.3, 69.5, 69.7, 69.9, 70.1, 70.3, 70.5, 70.7, 70.9, 71.1]}
            },
            "y2": {"field": "h"}
          }
        },
        {
          "data": {"name": "candles"},
          "mark": {"type": "bar", "size": 4, "stroke": "black", "strokeWidth": 1},
          "encoding": {
            "x": {"field": "i", "type": "quantitative"},
            "y": {"field": "o", "type": "quantitative"},
            "y2": {"field": "c"},
            "fill": {"condition": {"test": "datum.c >= datum.o", "value": "white"}, "value": "black"}
          }
        },
        {
          "data": {"name": "ma"},
          "mark": {"type": "line", "strokeWidth": 2, "interpolate": "monotone"},
          "encoding": {
            "x": {"field": "i", "type": "quantitative"},
            "y": {"field": "v", "type": "quantitative"},
            "color": {"field": "s", "type": "nominal", "legend": null,
              "scale": {"domain": ["jaw", "teeth", "lips"], "range": ["#1456d8", "#f01010", "#22e622"]}}
          }
        },
        {
          "mark": {"type": "rule", "color": "#e00000", "strokeWidth": 1},
          "encoding": {"y": {"datum": 69.81}}
        },
        {
          "data": {"name": "fractals"},
          "transform": [{"filter": "datum.k === 'up'"}],
          "mark": {"type": "point", "filled": true, "color": "#a4a9b0", "opacity": 1, "size": 100, "yOffset": -8,
            "shape": "M0,-1L1,0.8L0,0.3L-1,0.8Z"},
          "encoding": {
            "x": {"field": "i", "type": "quantitative"},
            "y": {"field": "p", "type": "quantitative"}
          }
        },
        {
          "data": {"name": "fractals"},
          "transform": [{"filter": "datum.k === 'down'"}],
          "mark": {"type": "point", "filled": true, "color": "#a4a9b0", "opacity": 1, "size": 100, "yOffset": 7,
            "shape": "M0,1L1,-0.8L0,-0.3L-1,-0.8Z"},
          "encoding": {
            "x": {"field": "i", "type": "quantitative"},
            "y": {"field": "p", "type": "quantitative"}
          }
        },
        {
          "data": {"name": "signals"},
          "mark": {"type": "point", "filled": true, "fill": "white", "strokeWidth": 1.5, "size": 350, "opacity": 1},
          "encoding": {
            "x": {"field": "i", "type": "quantitative"},
            "y": {"field": "p", "type": "quantitative"},
            "shape": {"field": "k", "type": "nominal", "legend": null,
              "scale": {"domain": ["buy", "sell"],
                "range": ["M0,-1L0.85,-0.05L0.4,-0.05L0.4,1L-0.4,1L-0.4,-0.05L-0.85,-0.05Z", "M0,1L0.85,0.05L0.4,0.05L0.4,-1L-0.4,-1L-0.4,0.05L-0.85,0.05Z"]}},
            "stroke": {"field": "k", "type": "nominal", "legend": null,
              "scale": {"domain": ["buy", "sell"], "range": ["#5ccf5c", "#ff3b3b"]}}
          }
        },
        {
          "data": {"name": "last"},
          "mark": {"type": "point", "filled": true, "color": "#d00000", "opacity": 1, "size": 100, "clip": false,
            "shape": "M-3.1,-1H3.1V1H-3.1Z"},
          "encoding": {
            "x": {"datum": 157.6},
            "y": {"field": "p", "type": "quantitative"}
          }
        },
        {
          "data": {"name": "last"},
          "mark": {"type": "text", "color": "white", "fontSize": 9.3, "font": "Liberation Sans", "align": "center", "baseline": "middle", "clip": false},
          "encoding": {
            "x": {"datum": 157.6},
            "y": {"field": "p", "type": "quantitative"},
            "text": {"field": "t"}
          }
        }
      ]
    },
    {
      "width": 1236,
      "height": 99,
      "title": {"text": "AOcust -0.027"},
      "data": {"name": "ao"},
      "mark": {"type": "bar", "size": 4},
      "encoding": {
        "x": {
          "field": "i", "type": "quantitative",
          "scale": {"domain": [0.9375, 155.4375], "nice": false, "zero": false},
          "axis": {"title": null, "labels": false, "ticks": false, "grid": true, "tickCount": 60,
            "values": [1,5,9,13,17,21,25,29,33,37,41,45,49,53,57,61,65,69,73,77,81,85,89,93,97,101,105,109,113,117,121,125,129,133,137,141,145,149,153]}
        },
        "y": {
          "field": "v", "type": "quantitative",
          "scale": {"domain": [-1.317, 1.121], "nice": false, "zero": false},
          "axis": {"title": null, "orient": "right", "values": [1.002, 0, -1.181],
            "labelExpr": "replace(format(datum.value, '.3f'), '−', '-')",
            "grid": true, "gridOpacity": {"condition": {"test": "datum.value === 0", "value": 1}, "value": 0}}
        },
        "y2": {"datum": 0},
        "color": {"field": "d", "type": "nominal", "legend": null,
          "scale": {"domain": ["g", "r"], "range": ["#008000", "#ff0000"]}}
      }
    },
    {
      "width": 1236,
      "height": 99,
      "title": {"text": "ACcust -0.0176"},
      "data": {"name": "ac"},
      "mark": {"type": "bar", "size": 4},
      "encoding": {
        "x": {
          "field": "i", "type": "quantitative",
          "scale": {"domain": [0.9375, 155.4375], "nice": false, "zero": false},
          "axis": {"title": null, "labels": false, "ticks": false, "grid": true, "tickCount": 60,
            "values": [1,5,9,13,17,21,25,29,33,37,41,45,49,53,57,61,65,69,73,77,81,85,89,93,97,101,105,109,113,117,121,125,129,133,137,141,145,149,153]}
        },
        "y": {
          "field": "v", "type": "quantitative",
          "scale": {"domain": [-0.576, 0.422], "nice": false, "zero": false},
          "axis": {"title": null, "orient": "right", "values": [0.3661, 0, -0.478],
            "labelExpr": "replace(format(datum.value, '.4f'), '−', '-')",
            "grid": true, "gridOpacity": {"condition": {"test": "datum.value === 0", "value": 1}, "value": 0}}
        },
        "y2": {"datum": 0},
        "color": {"field": "d", "type": "nominal", "legend": null,
          "scale": {"domain": ["g", "r"], "range": ["#008000", "#ff0000"]}}
      }
    },
    {
      "width": 1236,
      "height": 99,
      "title": {"text": "GatorCust 0.007 -0.003"},
      "data": {"name": "gator"},
      "mark": {"type": "bar", "size": 4},
      "encoding": {
        "x": {
          "field": "i", "type": "quantitative",
          "scale": {"domain": [0.9375, 155.4375], "nice": false, "zero": false},
          "axis": {"title": null, "grid": true, "tickCount": 60, "labelAlign": "left", "labelBaseline": "top", "labelOverlap": false, "labelFlush": false, "labelBound": false,
            "tickOpacity": {"condition": {"test": "(datum.value - 1) % 8 === 0", "value": 1}, "value": 0},
            "labelExpr": "(datum.value - 1) % 8 === 0 ? (['6 Mar 2025','6 Mar 14:00','6 Mar 22:00','7 Mar 09:00','7 Mar 17:00','10 Mar 01:00','10 Mar 09:00','10 Mar 17:00','11 Mar 04:00','11 Mar 12:00','11 Mar 20:00','12 Mar 07:00','12 Mar 15:00','13 Mar 02:00','13 Mar 10:00','13 Mar 18:00','14 Mar 05:00','14 Mar 13:00'][(datum.value - 1) / 8] || '') : ''",
            "values": [1,5,9,13,17,21,25,29,33,37,41,45,49,53,57,61,65,69,73,77,81,85,89,93,97,101,105,109,113,117,121,125,129,133,137,141,145,149,153]}
        },
        "y": {
          "field": "v", "type": "quantitative",
          "scale": {"domain": [-0.617, 0.766], "nice": false, "zero": false},
          "axis": {"title": null, "orient": "right", "values": [0.665, 0, -0.55],
            "labelExpr": "replace(format(datum.value, '.3f'), '−', '-')",
            "grid": true, "gridOpacity": {"condition": {"test": "datum.value === 0", "value": 1}, "value": 0}}
        },
        "y2": {"datum": 0},
        "color": {"field": "d", "type": "nominal", "legend": null,
          "scale": {"domain": ["g", "r"], "range": ["#008000", "#ff0000"]}}
      }
    }
  ]
}
